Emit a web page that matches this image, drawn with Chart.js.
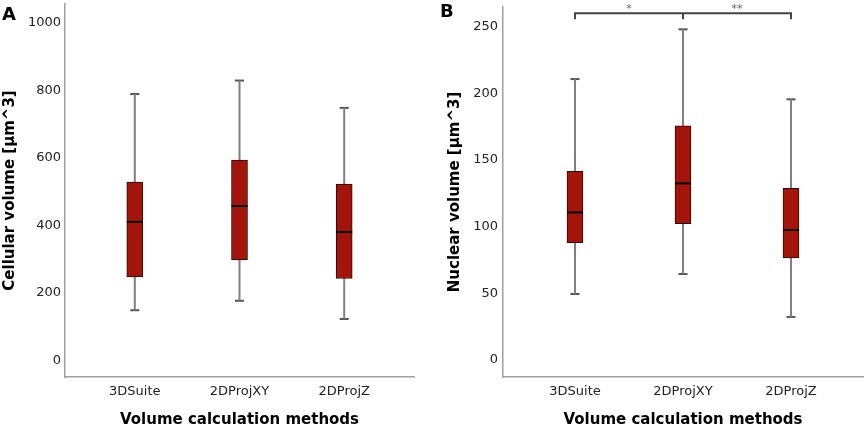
<!DOCTYPE html>
<html>
<head>
<meta charset="utf-8">
<script src="https://cdn.jsdelivr.net/npm/chart.js@4/dist/chart.umd.min.js"></script>
<style>
  body { margin: 0; background: #fff; }
  #wrap { position: relative; width: 865px; height: 429px; }
  .panel { position: absolute; top: 0; height: 429px; }
  .tag { position: absolute; font: bold 18px "DejaVu Sans"; line-height: normal; color: #000; }
</style>
</head>
<body>
<div id="wrap">
  <div class="panel" style="left:0;width:432px"><canvas id="cellChart"></canvas></div>
  <div class="panel" style="left:445px;width:420px"><canvas id="nucChart"></canvas></div>
  <div class="tag" style="left:2px;top:3px">A</div>
  <div class="tag" style="left:440px;top:0px">B</div>
</div>
<script>
const methods = ['3DSuite', '2DProjXY', '2DProjZ'];

// Panel A - cellular volume [µm^3]
const cellMin = [148, 176, 122];
const cellQ1 = [247, 297, 242];
const cellMedian = [410, 457, 380];
const cellQ3 = [528, 593, 522];
const cellMax = [789, 829, 748];
const cellTicks = [0, 200, 400, 600, 800, 1000];

// Panel B - nuclear volume [µm^3]
const nucMin = [49.5, 64.5, 32.3];
const nucQ1 = [88, 102.3, 76.5];
const nucMedian = [110.7, 132.5, 97.5];
const nucQ3 = [141.5, 175.7, 128.7];
const nucMax = [210.7, 248, 195.5];
const nucTicks = [0, 50, 100, 150, 200, 250];

// Significance brackets (panel B)
const sigPairs = [[0, 1], [1, 2]];
const sigLabels = ['*', '**'];
const sigLevel = 260;
const sigDrop = 255.5;

const BOX_RED = '#a3150b';
const WHISKER_GREY = '#808080';
const AXIS_GREY = '#a0a0a0';
const TITLE_FONT = { family: 'DejaVu Sans', size: 15, weight: 'bold' };
const TICK_FONT = { family: 'DejaVu Sans', size: 13 };

function whiskerPoints(min, max) {
    const pts = [];
    min.forEach((v, i) => {
        pts.push({ x: i, y: v }, { x: i, y: max[i] }, { x: i + 0.5, y: null });
    });
    return pts;
}

function capPoints(min, max) {
    const pts = [];
    min.forEach((v, i) => pts.push({ x: i, y: v }, { x: i, y: max[i] }));
    return pts;
}

function bracketPoints() {
    const pts = [];
    sigPairs.forEach(([a, b]) => {
        pts.push({ x: a, y: sigDrop }, { x: a, y: sigLevel },
                 { x: b, y: sigLevel }, { x: b, y: sigDrop }, { x: b, y: null });
    });
    return pts;
}

const sigText = {
    id: 'sigText',
    afterDatasetsDraw(chart) {
        const { ctx, scales: { x, y } } = chart;
        ctx.save();
        ctx.font = '11px "DejaVu Sans"';
        ctx.fillStyle = '#666';
        ctx.textAlign = 'center';
        ctx.textBaseline = 'alphabetic';
        sigPairs.forEach((p, i) => {
            const px = x.getPixelForValue((p[0] + p[1]) / 2);
            ctx.fillText(sigLabels[i], px, y.getPixelForValue(sigLevel) - 1);
        });
        ctx.restore();
    }
};

function makeBoxChart(id, stats, ticks, cfg) {
    const datasets = [
        {
            type: 'line',
            data: stats.median.map((v, i) => ({ x: i, y: v })),
            showLine: false,
            pointStyle: 'line',
            pointRadius: 8,
            pointBorderWidth: 2,
            pointBorderColor: '#000',
            order: 0
        },
        {
            type: 'bar',
            data: stats.q1.map((v, i) => ({ x: i, y: [v, stats.q3[i]] })),
            backgroundColor: BOX_RED,
            borderColor: '#2a0a06',
            borderWidth: 1,
            borderSkipped: false,
            barThickness: 16,
            order: 1
        },
        {
            type: 'line',
            data: whiskerPoints(stats.min, stats.max),
            borderColor: WHISKER_GREY,
            borderWidth: 2,
            pointRadius: 0,
            spanGaps: false,
            order: 2
        },
        {
            type: 'line',
            data: capPoints(stats.min, stats.max),
            showLine: false,
            pointStyle: 'line',
            pointRadius: 4.5,
            pointBorderWidth: 2,
            pointBorderColor: '#555',
            order: 2
        }
    ];
    if (cfg.brackets) {
        datasets.push({
            type: 'line',
            data: bracketPoints(),
            borderColor: '#444',
            borderWidth: 2,
            pointRadius: 0,
            spanGaps: false,
            clip: false,
            order: 3
        });
    }

    return new Chart(document.getElementById(id), {
        type: 'bar',
        data: { datasets },
        plugins: cfg.brackets ? [sigText] : [],
        options: {
            responsive: true,
            maintainAspectRatio: false,
            animation: false,
            layout: {
                autoPadding: false,
                padding: { left: 0, top: cfg.top, right: cfg.right, bottom: 0 }
            },
            plugins: {
                legend: { display: false },
                tooltip: { enabled: false }
            },
            scales: {
                x: {
                    type: 'linear',
                    min: -2 / 3,
                    max: 8 / 3,
                    offset: false,
                    grid: { display: false, drawTicks: false },
                    border: { display: true, color: AXIS_GREY, width: 1.5 },
                    afterBuildTicks: scale => {
                        scale.ticks = methods.map((m, i) => ({ value: i }));
                    },
                    afterFit: scale => {
                        scale.height = 52;
                        scale.paddingLeft = 0;
                        scale.paddingRight = 0;
                    },
                    ticks: {
                        padding: 7,
                        color: '#222',
                        font: TICK_FONT,
                        maxRotation: 0,
                        autoSkip: false,
                        callback: v => methods[v]
                    },
                    title: {
                        display: true,
                        text: 'Volume calculation methods',
                        color: '#000',
                        font: TITLE_FONT,
                        padding: { top: 0, bottom: 0 }
                    }
                },
                y: {
                    min: cfg.yMin,
                    max: cfg.yMax,
                    grid: { display: false, drawTicks: false },
                    border: { display: true, color: AXIS_GREY, width: 1.5 },
                    afterBuildTicks: scale => {
                        scale.ticks = ticks.map(v => ({ value: v }));
                    },
                    afterFit: scale => {
                        scale.width = cfg.axisWidth;
                        scale.paddingTop = 0;
                        scale.paddingBottom = 0;
                    },
                    ticks: {
                        padding: cfg.tickPad,
                        color: '#222',
                        font: TICK_FONT,
                        callback: v => String(v)
                    },
                    title: {
                        display: true,
                        text: cfg.title,
                        color: '#000',
                        font: TITLE_FONT,
                        padding: { top: 1, bottom: 0 }
                    }
                }
            }
        }
    });
}

makeBoxChart('cellChart',
    { min: cellMin, q1: cellQ1, median: cellMedian, q3: cellQ3, max: cellMax },
    cellTicks,
    { yMin: -50, yMax: 1056, top: 4, right: 18, axisWidth: 65, tickPad: 4,
      title: 'Cellular volume [µm^3]' });

makeBoxChart('nucChart',
    { min: nucMin, q1: nucQ1, median: nucMedian, q3: nucQ3, max: nucMax },
    nucTicks,
    { yMin: -12.75, yMax: 264.75, top: 7, right: 2, axisWidth: 58, tickPad: 5,
      title: 'Nuclear volume [µm^3]', brackets: true });
</script>
</body>
</html>
